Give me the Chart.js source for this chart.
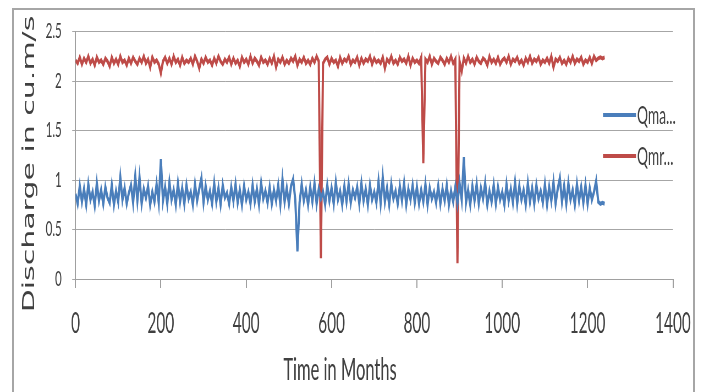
<!DOCTYPE html>
<html>
<head>
<meta charset="utf-8">
<script src="https://cdn.jsdelivr.net/npm/chart.js@4.4.1/dist/chart.umd.min.js"></script>
<style>
  html, body { margin: 0; padding: 0; background: #fff; overflow: hidden; }
  #frame {
    position: absolute; left: 12px; top: 8px; width: 679px; height: 400px;
    border: 2px solid #a6a6a6; box-sizing: content-box;
  }
  /* the reference is squeezed horizontally, so draw wide and squeeze */
  #wrap {
    position: absolute; left: 0; top: 0; width: 1275px; height: 392px;
    transform: scaleX(0.55); transform-origin: 0 0;
  }
</style>
</head>
<body>
<div id="frame"></div>
<div id="wrap"><canvas id="chart"></canvas></div>
<script>
// Qma... (blue), one value every 5 months from month 0
const qma = [
  0.86, 0.76, 0.94, 0.78, 0.91, 0.75, 0.96, 0.80, 0.88, 0.74,
  0.97, 0.79, 0.90, 0.76, 0.93, 0.82, 0.77, 0.95, 0.75, 0.89,
  0.78, 1.03, 0.80, 0.92, 0.76, 0.87, 0.95, 0.77, 1.04, 0.79,
  1.03, 0.76, 0.91, 0.82, 0.94, 0.75, 0.88, 0.78, 0.96, 0.77,
  1.21, 0.79, 0.93, 0.76, 0.98, 0.80, 0.90, 0.75, 0.97, 0.78,
  0.92, 0.76, 0.95, 0.81, 0.88, 0.75, 0.96, 0.79, 0.91, 1.02,
  0.77, 0.94, 0.80, 0.89, 0.76, 0.97, 0.78, 0.92, 0.75, 0.95,
  0.82, 0.87, 0.76, 0.93, 0.79, 0.96, 0.77, 0.90, 0.75, 0.94,
  0.80, 0.88, 0.76, 0.95, 0.78, 0.91, 0.75, 0.97, 0.81, 0.89,
  0.77, 0.93, 0.76, 0.90, 0.79, 0.95, 0.75, 1.01, 0.78, 0.92,
  0.76, 0.94, 1.01, 0.80, 0.28, 0.77, 0.96, 0.79, 0.90, 0.75,
  0.93, 0.78, 0.97, 0.76, 0.91, 0.81, 0.88, 0.75, 0.95, 0.79,
  0.92, 0.76, 0.98, 0.80, 0.89, 0.75, 0.94, 0.78, 0.96, 0.77,
  0.90, 0.82, 0.93, 0.76, 0.97, 0.79, 0.91, 0.75, 0.95, 0.80,
  0.88, 0.77, 0.99, 0.76, 1.03, 0.78, 0.92, 0.75, 0.96, 0.81,
  0.89, 0.76, 0.94, 0.79, 0.97, 0.75, 0.91, 0.80, 0.95, 0.77,
  0.93, 0.76, 0.90, 0.78, 0.96, 0.75, 0.92, 0.81, 0.88, 0.77,
  0.94, 0.76, 0.91, 0.79, 0.95, 0.75, 0.89, 0.78, 0.93, 0.76,
  0.97, 0.80, 1.23, 0.77, 0.90, 0.75, 0.94, 0.79, 0.96, 0.76,
  0.92, 0.81, 0.97, 0.75, 0.89, 0.78, 0.95, 0.76, 0.93, 0.80,
  0.88, 0.75, 0.96, 0.79, 0.91, 0.77, 0.98, 0.76, 0.94, 0.80,
  0.90, 0.75, 0.97, 0.78, 0.92, 0.76, 0.95, 0.81, 0.89, 0.77,
  0.96, 0.75, 0.93, 0.79, 0.98, 0.76, 0.91, 1.02, 0.78, 0.94,
  0.76, 0.97, 0.80, 0.90, 0.75, 0.96, 0.79, 0.93, 0.77, 0.95,
  0.76, 0.92, 0.80, 0.88, 0.99, 0.78, 0.76, 0.77, 0.76
];

// Qmr... (red)
const qmr = [
  2.21, 2.18, 2.24, 2.17, 2.23, 2.19, 2.25, 2.18, 2.22, 2.16,
  2.24, 2.19, 2.21, 2.17, 2.23, 2.20, 2.15, 2.24, 2.18, 2.22,
  2.17, 2.25, 2.19, 2.21, 2.16, 2.23, 2.18, 2.24, 2.20, 2.17,
  2.23, 2.19, 2.25, 2.18, 2.22, 2.14, 2.24, 2.19, 2.21, 2.17,
  2.08, 2.20, 2.24, 2.18, 2.23, 2.17, 2.25, 2.19, 2.22, 2.16,
  2.24, 2.18, 2.21, 2.19, 2.23, 2.17, 2.25, 2.20, 2.13, 2.22,
  2.18, 2.24, 2.19, 2.21, 2.16, 2.23, 2.18, 2.25, 2.20, 2.17,
  2.22, 2.19, 2.24, 2.17, 2.23, 2.18, 2.21, 2.15, 2.24, 2.19,
  2.22, 2.17, 2.25, 2.18, 2.23, 2.20, 2.16, 2.24, 2.19, 2.21,
  2.17, 2.23, 2.18, 2.25, 2.14, 2.22, 2.19, 2.24, 2.17, 2.21,
  2.18, 2.23, 2.20, 2.25, 2.16, 2.22, 2.19, 2.24, 2.18, 2.21,
  2.17, 2.23, 2.19, 2.25, 2.20, 0.21, 2.18, 2.22, 2.24, 2.17,
  2.23, 2.19, 2.21, 2.15, 2.24, 2.18, 2.22, 2.20, 2.25, 2.17,
  2.21, 2.19, 2.24, 2.16, 2.23, 2.18, 2.22, 2.20, 2.25, 2.17,
  2.23, 2.19, 2.21, 2.18, 2.24, 2.13, 2.22, 2.19, 2.25, 2.18,
  2.21, 2.17, 2.24, 2.20, 2.22, 2.18, 2.25, 2.16, 2.23, 2.19,
  2.21, 2.18, 2.24, 1.17, 2.22, 2.19, 2.25, 2.17, 2.23, 2.20,
  2.18, 2.24, 2.21, 2.17, 2.23, 2.19, 2.25, 2.18, 2.22, 0.16,
  2.20, 2.10, 2.23, 2.18, 2.25, 2.19, 2.22, 2.17, 2.24, 2.20,
  2.18, 2.23, 2.21, 2.16, 2.25, 2.19, 2.22, 2.18, 2.24, 2.17,
  2.21, 2.23, 2.19, 2.25, 2.17, 2.22, 2.20, 2.24, 2.18, 2.21,
  2.16, 2.23, 2.19, 2.25, 2.18, 2.22, 2.20, 2.24, 2.17, 2.21,
  2.19, 2.23, 2.18, 2.25, 2.14, 2.22, 2.20, 2.24, 2.18, 2.21,
  2.17, 2.23, 2.19, 2.25, 2.18, 2.22, 2.20, 2.24, 2.17, 2.21,
  2.19, 2.24, 2.18, 2.25, 2.21, 2.23, 2.24, 2.23, 2.24
];

// months 0, 5, 10, ... (sample spacing)
const months = qma.map((_, i) => i * 5);

const seriesNames = ["Qma...", "Qmr..."];
const seriesColors = ["#4a7ebb", "#be4b48"];
const xTicks = [0, 200, 400, 600, 800, 1000, 1200, 1400];
const yTicks = [0, 0.5, 1, 1.5, 2, 2.5];
const xTitle = "Time in Months";
const yTitle = "Discharge in cu.m/s";

const SQ = 0.55; // horizontal squeeze of the wrapper
const W = 1275;

const toPoints = (vals) => vals.map((v, i) => ({ x: months[i], y: v }));

// titles + legend drawn inside the plot, like the reference
const overlay = {
  id: "overlay",
  afterDraw(chart) {
    const ctx = chart.ctx;

    ctx.save();
    ctx.fillStyle = "#404040";
    ctx.textAlign = "center";
    ctx.textBaseline = "middle";
    ctx.translate(30 / SQ, 164);
    ctx.rotate(-Math.PI / 2);
    ctx.font = '30px "DejaVu Sans"';
    ctx.fillText(yTitle, 0, 0);
    ctx.restore();

    ctx.save();
    ctx.fillStyle = "#404040";
    ctx.textAlign = "center";
    ctx.textBaseline = "middle";
    ctx.font = '30px Lato';
    ctx.fillText(xTitle, 340 / SQ, 370);
    ctx.restore();

    // legend
    const rows = [115, 156];
    chart.data.datasets.forEach((ds, i) => {
      const y = rows[i];
      ctx.save();
      ctx.strokeStyle = ds.borderColor;
      ctx.lineWidth = 4;
      ctx.beginPath();
      ctx.moveTo(603 / SQ, y);
      ctx.lineTo(636 / SQ, y);
      ctx.stroke();
      ctx.fillStyle = "#404040";
      ctx.font = '25px Lato';
      ctx.textAlign = "left";
      ctx.textBaseline = "middle";
      ctx.fillText(ds.label, 637 / SQ, y + 1);
      ctx.restore();
    });
  }
};

new Chart(document.getElementById("chart"), {
  type: "line",
  data: {
    datasets: [
      {
        label: seriesNames[0],
        data: toPoints(qma),
        borderColor: seriesColors[0],
        borderWidth: 4,
        pointRadius: 0,
        tension: 0,
      },
      {
        label: seriesNames[1],
        data: toPoints(qmr),
        borderColor: seriesColors[1],
        borderWidth: 4,
        pointRadius: 0,
        tension: 0,
      },
    ],
  },
  options: {
    responsive: true,
    maintainAspectRatio: false,
    animation: false,
    layout: {
      padding: { left: 0, right: W - 673 / SQ, top: 29, bottom: 0 },
    },
    scales: {
      x: {
        type: "linear",
        min: 0,
        max: 1400,
        afterFit: (scale) => { scale.height = 392 - 279; },
        afterBuildTicks: (scale) => { scale.ticks = xTicks.map((v) => ({ value: v })); },
        ticks: {
          callback: (v) => String(v),
          color: "#404040",
          font: { family: "Lato", size: 28 },
          padding: 19,
          maxRotation: 0,
        },
        grid: {
          drawOnChartArea: false,
          drawTicks: true,
          tickLength: 9,
          color: "#a0a0a0",
          lineWidth: 2,
        },
        border: { color: "#a0a0a0", width: 1 },
      },
      y: {
        min: 0,
        max: 2.5,
        afterFit: (scale) => { scale.width = 75.5 / SQ; },
        afterBuildTicks: (scale) => { scale.ticks = yTicks.map((v) => ({ value: v })); },
        ticks: {
          callback: (v) => String(v),
          color: "#404040",
          font: { family: "Lato", size: 21 },
          padding: 19,
        },
        grid: {
          color: "#a6a6a6",
          lineWidth: 1,
          tickLength: 6,
        },
        border: { color: "#a0a0a0", width: 2 },
      },
    },
    plugins: {
      legend: { display: false },
      tooltip: { enabled: false },
    },
  },
  plugins: [overlay],
});
</script>
</body>
</html>
